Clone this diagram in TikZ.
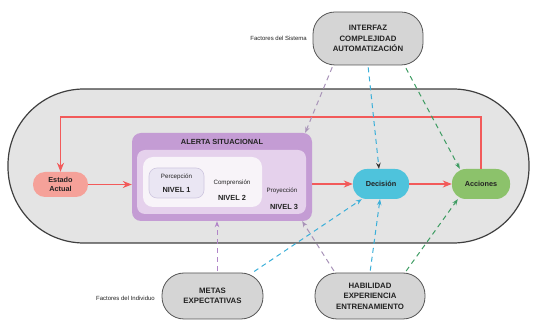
\documentclass[tikz,border=0pt]{standalone}
\usepackage{fontspec}
\setmainfont{Liberation Sans}
\usetikzlibrary{arrows.meta,calc}
\definecolor{bggray}{HTML}{E4E4E4}
\definecolor{edgegray}{HTML}{3F3F3F}
\definecolor{factfill}{HTML}{D5D5D5}
\definecolor{factedge}{HTML}{555555}
\definecolor{purpA}{HTML}{C49CD4}
\definecolor{purpB}{HTML}{E5D1EC}
\definecolor{purpC}{HTML}{F8F4F9}
\definecolor{purpD}{HTML}{EAE6F3}
\definecolor{purpDedge}{HTML}{CFC7E0}
\definecolor{salmon}{HTML}{F5A199}
\definecolor{cyanfill}{HTML}{4EC3DC}
\definecolor{greenfill}{HTML}{8CC26B}
\definecolor{redline}{HTML}{F25A5A}
\definecolor{dpurple}{HTML}{B185C8}
\definecolor{dgraypurp}{HTML}{A893B8}
\definecolor{dcyan}{HTML}{3AAFD9}
\definecolor{dgreen}{HTML}{3E9C62}
\definecolor{txt}{HTML}{222222}
\tikzset{
  factor/.style={draw=factedge, fill=factfill, line width=0.8pt, rounded corners=22pt,
    minimum height=46pt, align=center, inner sep=0pt, text=txt,
    font=\bfseries\fontsize{7.8}{10.5}\selectfont},
  flow/.style={rounded corners=#1, inner sep=0pt, align=center, text=txt,
    font=\bfseries\fontsize{7.3}{9}\selectfont},
  side/.style={font=\fontsize{6}{7}\selectfont, anchor=east, inner sep=0pt, text=txt},
  small/.style={font=\fontsize{6.2}{7}\selectfont, inner sep=0pt, text=txt},
  lvl/.style={font=\bfseries\fontsize{7.4}{8}\selectfont, inner sep=0pt, text=txt},
  redarrow/.style={draw=redline, line width=1.2pt, -{Stealth[length=9pt,width=7pt]}},
  dsh/.style={line width=1pt, dash pattern=on 5pt off 4pt, shorten <=2pt,
    -{Stealth[length=6pt,width=4.5pt]}}
}
\begin{document}
\begin{tikzpicture}[x=1pt,y=-1pt]
\useasboundingbox (0,0) rectangle (536,320);
% big stadium
\draw[fill=bggray, draw=edgegray, line width=1.2pt, rounded corners=76pt] (8,89) rectangle (529,243);

% factor nodes
\node[factor, minimum width=110pt, minimum height=53pt] (interfaz) at (368,38.5) {INTERFAZ\\COMPLEJIDAD\\AUTOMATIZACIÓN};
\node[factor, minimum width=101pt] (metas) at (212.5,296) {METAS\\EXPECTATIVAS};
\node[factor, minimum width=110pt] (hab) at (370,296) {HABILIDAD\\EXPERIENCIA\\ENTRENAMIENTO};
\node[side] (fsis) at (307,38) {Factores del Sistema};
\node[side] (find) at (155,298) {Factores del Individuo};

% situational awareness boxes
\node[fill=purpA, rounded corners=9pt, minimum width=180pt, minimum height=88pt, inner sep=0pt] (alerta) at (222,177) {};
\node[fill=purpB, rounded corners=8pt, minimum width=169pt, minimum height=64pt, inner sep=0pt] (n3box) at (221.5,182) {};
\node[fill=purpC, rounded corners=10pt, minimum width=119pt, minimum height=50pt, inner sep=0pt] (n2box) at (202.5,182) {};
\node[fill=purpD, draw=purpDedge, line width=0.6pt, rounded corners=8pt, minimum width=55pt, minimum height=30pt, inner sep=0pt] (n1box) at (176.5,183) {};
\node[lvl] (atitle) at (222,142) {ALERTA SITUACIONAL};
\node[small] (perc) at (176.5,176.5) {Percepción};
\node[lvl] (niv1) at (176.5,190) {NIVEL 1};
\node[small] (comp) at (232,183) {Comprensión};
\node[lvl] (niv2) at (232,198) {NIVEL 2};
\node[small] (proy) at (282,191) {Proyección};
\node[lvl] (niv3) at (284,207) {NIVEL 3};

% flow nodes
\node[flow=12pt, fill=salmon, minimum width=55pt, minimum height=25pt] (est) at (60.5,184.5) {Estado\\Actual};
\node[flow=14pt, fill=cyanfill, minimum width=56pt, minimum height=30pt] (dec) at (381,184) {Decisión};
\node[flow=14pt, fill=greenfill, minimum width=58pt, minimum height=30pt] (acc) at (481,184) {Acciones};

% red arrows
\coordinate (top) at (0,117);
\draw[redarrow] (acc.north) -- (acc.north |- top) -| (est.north);
\draw[redarrow] (est.east) -- (alerta.west |- est.east);
\draw[redarrow] (alerta.east |- dec.west) -- (dec.west);
\draw[redarrow] (dec.east) -- (acc.west);

% dashed influences from system factors
\draw[dsh, draw=dgraypurp] ($(interfaz.south)+(-35,0)$) -- ($(alerta.north east)+(-7,0)$);
\draw[dsh, draw=dcyan, -{Stealth[length=6pt,width=4.5pt,color=black!80]}] (interfaz.south) -- ($(dec.north)+(-2,0)$);
\draw[dsh, draw=dgreen] ($(interfaz.south)+(37,1)$) -- ($(acc.north west)+(8,0)$);

% dashed influences from individual factors
\draw[dsh, draw=dpurple] ($(metas.north)+(4.5,0)$) -- ($(alerta.south)+(-5,0)$);
\draw[dsh, draw=dcyan] ($(metas.north)+(40,0)$) -- ($(dec.south west)+(9,0)$);
\draw[dsh, draw=dgraypurp] ($(hab.north)+(-35,0)$) -- ($(alerta.south east)+(-10,0)$);
\draw[dsh, draw=dcyan] (hab.north) -- ($(dec.south)+(-1,0)$);
\draw[dsh, draw=dgreen] ($(hab.north)+(35,0)$) -- ($(acc.south west)+(6,0)$);
\end{tikzpicture}
\end{document}
